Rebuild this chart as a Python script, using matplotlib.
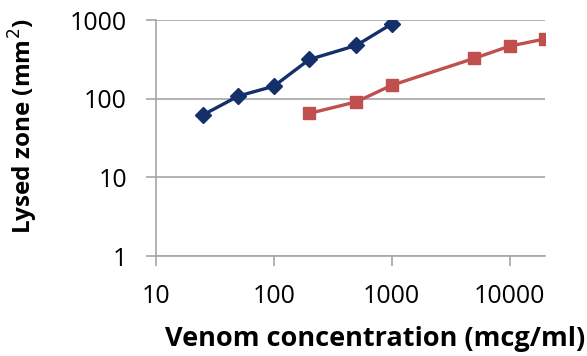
import matplotlib.pyplot as plt
import numpy as np

# data (log-log)
conc_blue = [25, 50, 100, 200, 500, 1000]
zone_blue = [62, 108, 144, 315, 475, 890]
conc_red = [200, 500, 1000, 5000, 10000, 20000]
zone_red = [65, 91, 148, 325, 465, 575]

x_ticks = [10, 100, 1000, 10000]
y_ticks = [1, 10, 100, 1000]

plt.rcParams['font.family'] = ['Open Sans', 'DejaVu Sans']

fig = plt.figure(figsize=(5.87, 3.56), dpi=100)
ax = fig.add_axes([156 / 587, 1 - 256 / 356, (545 - 156) / 587, (256 - 20) / 356])

ax.plot(conc_blue, zone_blue, color='#13306B', linewidth=2.4,
        marker='D', markersize=8, zorder=3)
ax.plot(conc_red, zone_red, color='#C0504D', linewidth=2.4,
        marker='s', markersize=9, zorder=3)

ax.set_xscale('log')
ax.set_yscale('log')
ax.set_xlim(10, 20000)
ax.set_ylim(1, 1000)
ax.set_xticks(x_ticks)
ax.set_xticklabels([str(v) for v in x_ticks])
ax.set_yticks(y_ticks)
ax.set_yticklabels([str(v) for v in y_ticks])
ax.minorticks_off()

ax.grid(axis='y', color='#A6A6A6', linewidth=1.2)
ax.set_axisbelow(True)
for s in ['top', 'right']:
    ax.spines[s].set_visible(False)
for s in ['left', 'bottom']:
    ax.spines[s].set_color('#A6A6A6')
    ax.spines[s].set_linewidth(1.2)
ax.tick_params(axis='both', colors='#A6A6A6', length=7, width=1.2,
               labelsize=18, labelcolor='black')
ax.tick_params(axis='x', pad=13)
ax.tick_params(axis='y', pad=14)

ax.set_xlabel('Venom concentration (mcg/ml)', fontsize=19.5, fontweight='bold')
ax.xaxis.set_label_coords((375 - 156) / 389, (256 - 339) / 236)
ax.xaxis.label.set_va('center')
ax.set_ylabel('Lysed zone (mm$^2$)', fontsize=17.5, fontweight='bold')
ax.yaxis.set_label_coords((23 - 156) / 389, (256 - 126) / 236)
ax.yaxis.label.set_va('center')

fig.savefig('out.png', dpi=100)
